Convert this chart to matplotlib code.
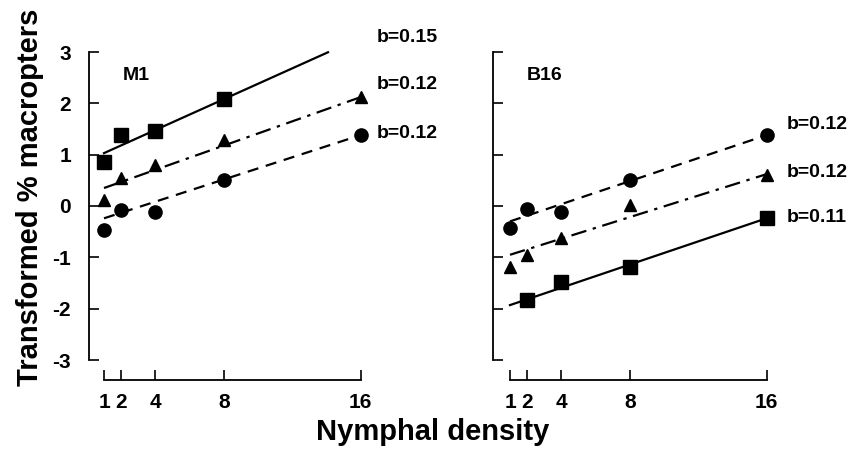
import numpy as np
import matplotlib
matplotlib.use("Agg")
import matplotlib.pyplot as plt

plt.rcParams['font.family'] = ['Liberation Sans', 'DejaVu Sans']
plt.rcParams['font.weight'] = 'bold'
plt.rcParams['axes.unicode_minus'] = False

# ===================== data =====================
density = [1, 2, 4, 8, 16]
x_ticks = [1, 2, 4, 8, 16]
y_ticks = [-3, -2, -1, 0, 1, 2, 3]

# M1
m1_square = [0.86, 1.38, 1.46, 2.08, np.nan]
m1_triangle = [0.12, 0.55, 0.80, 1.29, 2.12]
m1_circle = [-0.46, -0.07, -0.12, 0.50, 1.38]
m1_fit = {  # intercept, slope, x range
    "square": (0.88, 0.15, 1, 14.1),
    "triangle": (0.232, 0.118, 1, 16),
    "circle": (-0.348, 0.108, 1, 16),
}
m1_b = ["b=0.15", "b=0.12", "b=0.12"]

# B16
b16_square = [np.nan, -1.83, -1.48, -1.18, -0.24]
b16_triangle = [-1.19, -0.96, -0.63, 0.02, 0.60]
b16_circle = [-0.43, -0.06, -0.11, 0.50, 1.38]
b16_fit = {
    "square": (-2.043, 0.1127, 1, 16),
    "triangle": (-1.055, 0.1047, 1, 16),
    "circle": (-0.412, 0.112, 1, 16),
}
b16_b = ["b=0.12", "b=0.12", "b=0.11"]

styles = {
    "square": dict(marker="s", ms=9.5, ls="-"),
    "triangle": dict(marker="^", ms=9, ls=(0, (7, 3, 1.5, 3))),
    "circle": dict(marker="o", ms=9.5, ls=(0, (5, 3.5))),
}

W, H = 852, 453
fig = plt.figure(figsize=(W / 100, H / 100), dpi=100)

px = 17.1  # pixels per density unit


def make_axes(spine_x, x_left, show_labels):
    x_right = 16.5
    width = (x_right - x_left) * px
    ax = fig.add_axes([spine_x / W, 1 - 360 / H, width / W, (360 - 52) / H])
    ax.set_xlim(x_left, x_right)
    ax.set_ylim(-3, 3)
    ax.patch.set_visible(False)
    for s in ["top", "right"]:
        ax.spines[s].set_visible(False)
    ax.spines["left"].set_linewidth(1.3)
    ax.spines["bottom"].set_linewidth(1.3)
    ax.spines["bottom"].set_position(("outward", 14.4))
    ax.spines["bottom"].set_bounds(1, 16)
    ax.set_xticks(x_ticks)
    ax.set_yticks(y_ticks)
    ax.tick_params(axis="y", direction="in", length=7, width=1.2, pad=13,
                   labelsize=15, labelleft=show_labels)
    ax.tick_params(axis="x", direction="in", length=7, width=1.2, pad=9,
                   labelsize=15)
    for lab in ax.get_xticklabels() + ax.get_yticklabels():
        lab.set_fontweight("bold")
    return ax


def draw(ax, series, fits):
    for key, vals in series.items():
        st = styles[key]
        a, b, x0, x1 = fits[key]
        xs = np.array([x0, x1])
        ax.plot(xs, a + b * xs, color="black", lw=1.6, ls=st["ls"],
                clip_on=False)
        ax.plot(density, vals, color="black", ls="none", marker=st["marker"],
                ms=st["ms"], clip_on=False)


ax1 = make_axes(89, 1 - 15 / px, True)
draw(ax1, {"square": m1_square, "triangle": m1_triangle, "circle": m1_circle},
     m1_fit)
ax1.text(2.1, 2.55, "M1", fontsize=14, fontweight="bold", va="center")
for lab, y in zip(m1_b, [3.29, 2.36, 1.42]):
    ax1.text(16.95, y, lab, fontsize=14, fontweight="bold", va="center",
             clip_on=False)

ax2 = make_axes(493, 1 - 17 / px, False)
draw(ax2, {"square": b16_square, "triangle": b16_triangle, "circle": b16_circle},
     b16_fit)
ax2.text(2.0, 2.55, "B16", fontsize=14, fontweight="bold", va="center")
for lab, y in zip(b16_b, [1.58, 0.66, -0.23]):
    ax2.text(17.2, y, lab, fontsize=14, fontweight="bold", va="center",
             clip_on=False)

fig.text(30 / W, 1 - 197 / H, "Transformed % macropters", rotation=90,
         fontsize=21, fontweight="bold", ha="center", va="center")
fig.text(433 / W, 1 - 432 / H, "Nymphal density", fontsize=21,
         fontweight="bold", ha="center", va="center")

fig.savefig("out.png", dpi=100)
